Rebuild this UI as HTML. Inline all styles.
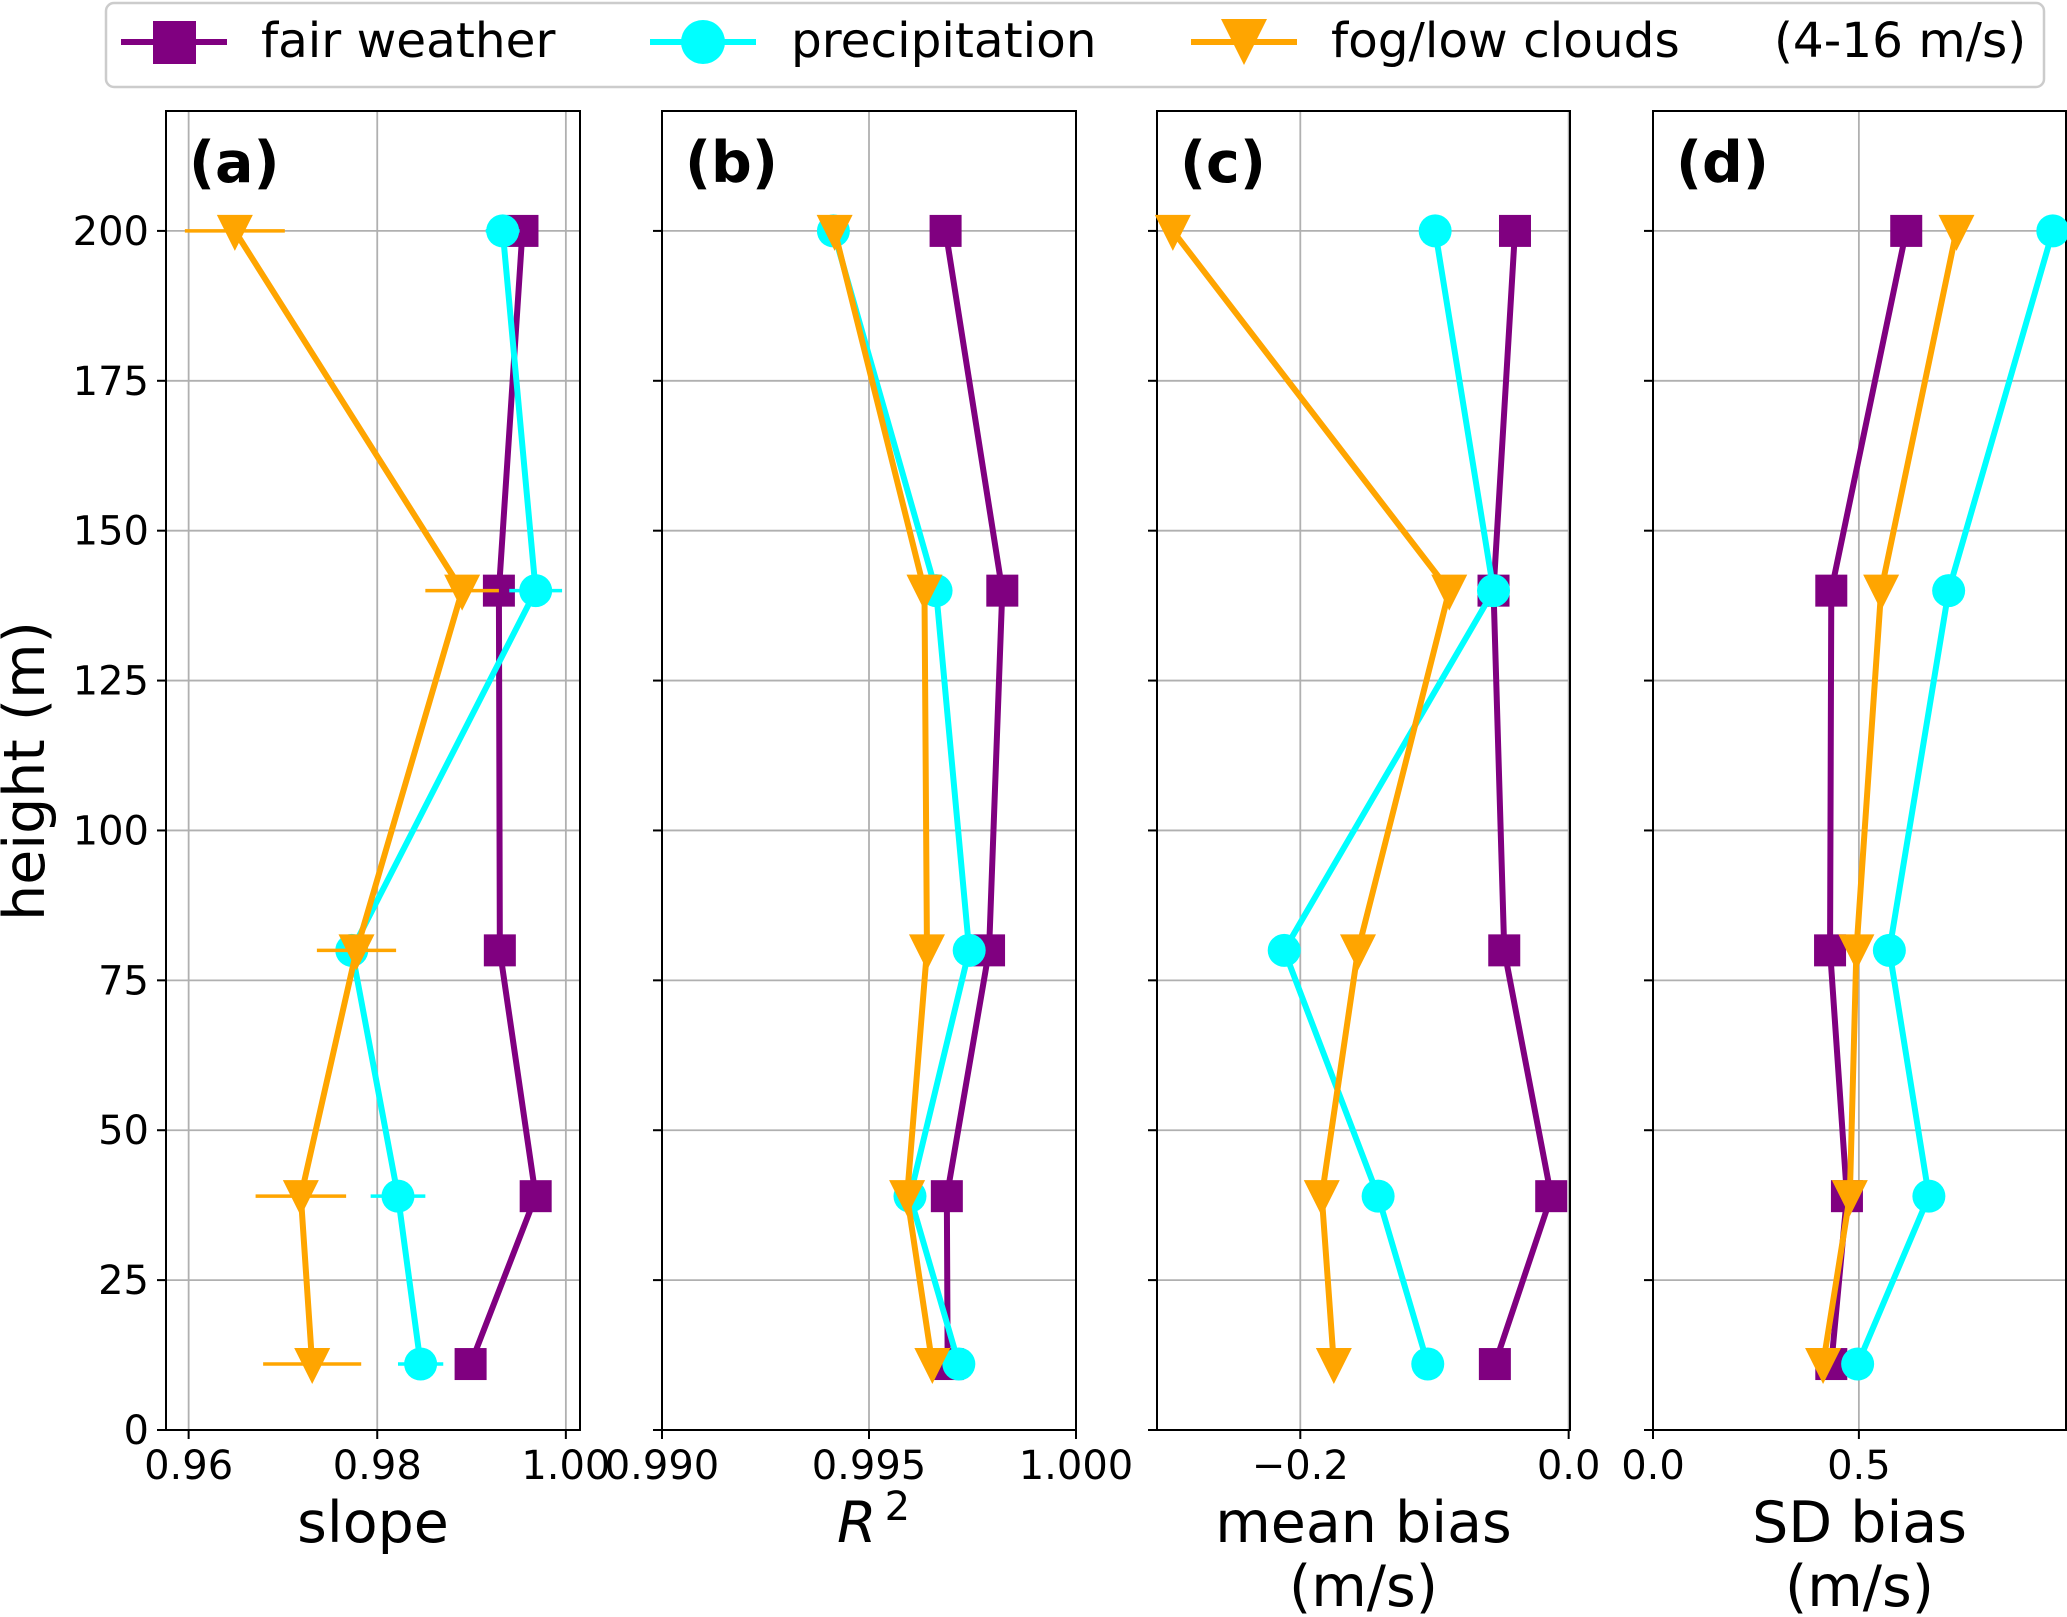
<!DOCTYPE html>
<html><head><meta charset="utf-8"><style>
html,body{margin:0;padding:0;background:#fff;}
svg{display:block;font-family:"DejaVu Sans","Liberation Sans",sans-serif;}
</style></head><body>
<svg id="fig" width="2067" height="1617" viewBox="0 0 2067 1617" xmlns="http://www.w3.org/2000/svg">
<g id="legend">
<rect x="106" y="3" width="1938" height="84" rx="8" fill="#fff" stroke="#cccccc" stroke-width="2.5"/>
<g>
<line x1="121" y1="42" x2="227" y2="42" stroke="#800080" stroke-width="6"/>
<rect x="153" y="21" width="43" height="43" fill="#800080"/>
<text x="261" y="57" font-size="48.5">fair weather</text></g>
<g>
<line x1="650" y1="42" x2="756" y2="42" stroke="#00ffff" stroke-width="6"/>
<ellipse cx="703" cy="42" rx="22" ry="22" fill="#00ffff"/>
<text x="791" y="57" font-size="48.5">precipitation</text></g>
<g>
<line x1="1191" y1="42" x2="1297" y2="42" stroke="#ffa500" stroke-width="6"/>
<polygon points="1221,19 1267,19 1244,65" fill="#ffa500"/>
<text x="1331" y="57" font-size="48.5">fog/low clouds</text></g>
<text x="1774" y="57" font-size="48.5">(4-16 m/s)</text>
</g>
<text transform="translate(44,771) rotate(-90)" text-anchor="middle" font-size="57">height (m)</text>
</svg>
<script>
const heights=[200,140,80,39,11];
const yTicks=[0,25,50,75,100,125,150,175,200];
const slopeFair=[0.9954,0.9929,0.9930,0.9968,0.9899];
const slopePrecip=[0.9933,0.9968,0.9773,0.9822,0.9846];
const slopeFog=[0.9649,0.9890,0.9778,0.9719,0.9731];
const slopeErrPrecip=[0.0018,0.0028,0.0012,0.0029,0.0024];
const slopeErrFog=[0.0053,0.0039,0.0042,0.0048,0.0052];
const r2Fair=[0.99685,0.99822,0.9979,0.99688,0.99690];
const r2Precip=[0.99414,0.99662,0.99742,0.99599,0.99717];
const r2Fog=[0.99417,0.99634,0.9964,0.99592,0.99653];
const mbFair=[-0.040,-0.056,-0.048,-0.013,-0.055];
const mbPrecip=[-0.0995,-0.056,-0.212,-0.142,-0.105];
const mbFog=[-0.295,-0.089,-0.157,-0.184,-0.175];
const sdFair=[0.615,0.433,0.43,0.471,0.433];
const sdPrecip=[0.971,0.718,0.574,0.67,0.497];
const sdFog=[0.737,0.554,0.494,0.478,0.413];
const ticksA=[0.96,0.98,1.00], labelsA=["0.96","0.98","1.00"];
const ticksB=[0.990,0.995,1.000], labelsB=["0.990","0.995","1.000"];
const ticksC=[-0.2,0.0], labelsC=["\u22120.2","0.0"];
const ticksD=[0.0,0.5], labelsD=["0.0","0.5"];

const NS="http://www.w3.org/2000/svg";
const svg=document.getElementById('fig');
function mk(tag,attrs,parent){const e=document.createElementNS(NS,tag);for(const k in attrs)e.setAttribute(k,attrs[k]);(parent||svg).appendChild(e);return e;}
const TOP=111,BOT=1430,YMAX=220;
function yS(v){return BOT-(BOT-TOP)*v/YMAX;}
const panels=[
 {id:'a',left:166,right:580,xmin:0.9576,xmax:1.0015,ticks:ticksA,labels:labelsA,series:[slopeFair,slopePrecip,slopeFog],errs:[null,slopeErrPrecip,slopeErrFog],title:['slope'],ylab:true},
 {id:'b',left:662,right:1076,xmin:0.990,xmax:1.000,ticks:ticksB,labels:labelsB,series:[r2Fair,r2Precip,r2Fog],errs:[null,null,null],title:['R2']},
 {id:'c',left:1157,right:1570,xmin:-0.3068,xmax:0.001,ticks:ticksC,labels:labelsC,series:[mbFair,mbPrecip,mbFog],errs:[null,null,null],title:['mean bias','(m/s)']},
 {id:'d',left:1653,right:2066,xmin:0.0,xmax:1.003,ticks:ticksD,labels:labelsD,series:[sdFair,sdPrecip,sdFog],errs:[null,null,null],title:['SD bias','(m/s)']}
];
const colors=['#800080','#00ffff','#ffa500'];
const names=['fair-weather','precipitation','fog-low-clouds'];
panels.forEach(p=>{
 const g=mk('g',{});
 
 
 const xS=v=>p.left+(p.right-p.left)*(v-p.xmin)/(p.xmax-p.xmin);
 yTicks.forEach(t=>{
  const l=mk('line',{x1:p.left,x2:p.right,y1:yS(t),y2:yS(t),stroke:'#b0b0b0','stroke-width':1.8},g);
   
  const tk=mk('line',{x1:p.left-9,x2:p.left,y1:yS(t),y2:yS(t),stroke:'#000','stroke-width':2},g);
   
  if(p.ylab){const tx=mk('text',{x:p.left-17,y:yS(t)+14,'text-anchor':'end','font-size':40},g);tx.textContent=String(t);
    }
 });
 p.ticks.forEach((t,i)=>{
  const l=mk('line',{x1:xS(t),x2:xS(t),y1:TOP,y2:BOT,stroke:'#b0b0b0','stroke-width':1.8},g);
   
  const tk=mk('line',{x1:xS(t),x2:xS(t),y1:BOT,y2:BOT+9,stroke:'#000','stroke-width':2},g);
   
  const tx=mk('text',{x:xS(t),y:1479,'text-anchor':'middle','font-size':40},g);tx.textContent=p.labels[i];
   
 });
 const fr=mk('rect',{x:p.left,y:TOP,width:p.right-p.left,height:BOT-TOP,fill:'none',stroke:'#000','stroke-width':2},g);
  
 const pl=mk('text',{x:p.left+23,y:182,'font-size':57,'font-weight':'bold'},g);pl.textContent='('+p.id+')';
  
 if(p.title[0]==='R2'){
  const t=mk('text',{x:(p.left+p.right)/2-32,y:1542,'font-size':57,'font-style':'italic'},g);t.textContent='R';
  const s=mk('tspan',{dy:-22,'font-size':40,'font-style':'normal',dx:8},t);s.textContent='2';
   
 } else p.title.forEach((s,i)=>{
  const t=mk('text',{x:(p.left+p.right)/2,y:1542+i*64,'text-anchor':'middle','font-size':57},g);t.textContent=s;
   
 });
 p.series.forEach((vals,si)=>{
  const sg=mk('g',{},g);
  
  
  const c=colors[si];
  const err=p.errs[si];
  if(err) vals.forEach((v,i)=>{
   const e=mk('line',{x1:xS(v-err[i]),x2:xS(v+err[i]),y1:yS(heights[i]),y2:yS(heights[i]),stroke:c,'stroke-width':3.5},sg);
    
  });
  const pts=vals.map((v,i)=>xS(v)+','+yS(heights[i])).join(' ');
  const pln=mk('polyline',{points:pts,fill:'none',stroke:c,'stroke-width':6,'stroke-linejoin':'round'},sg);
   
  vals.forEach((v,i)=>{
   const x=xS(v),y=yS(heights[i]);let m;
   if(si===0) m=mk('rect',{x:x-16,y:y-16,width:32,height:32,fill:c},sg);
   else if(si===1) m=mk('circle',{cx:x,cy:y,r:16.5,fill:c},sg);
   else m=mk('polygon',{points:(x-18)+','+(y-16)+' '+(x+18)+','+(y-16)+' '+x+','+(y+20),fill:c},sg);
    
  });
 });
});
svg.appendChild(document.getElementById('legend'));
</script>
</body></html>
